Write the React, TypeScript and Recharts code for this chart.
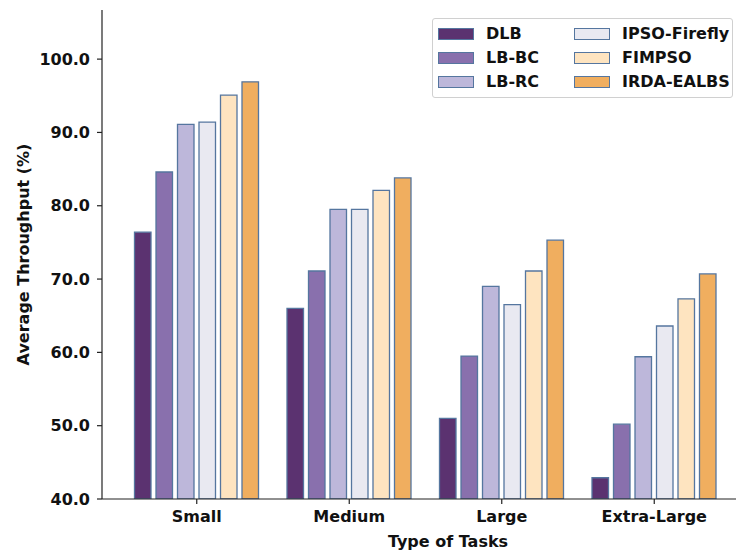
import React from 'react';
import { BarChart, Bar, XAxis, YAxis, Legend, Label } from 'recharts';

const categories = ['Small', 'Medium', 'Large', 'Extra-Large'];
const dlb = [76.4, 66.0, 51.0, 42.9];
const lbBc = [84.6, 71.1, 59.5, 50.2];
const lbRc = [91.1, 79.5, 69.0, 59.4];
const ipsoFirefly = [91.4, 79.5, 66.5, 63.6];
const fimpso = [95.1, 82.1, 71.1, 67.3];
const irdaEalbs = [96.9, 83.8, 75.3, 70.7];
const yTicks = [40, 50, 60, 70, 80, 90, 100];

const series = [
  { key: 'DLB', values: dlb, color: '#5b3270' },
  { key: 'LB-BC', values: lbBc, color: '#8970ad' },
  { key: 'LB-RC', values: lbRc, color: '#bdb7da' },
  { key: 'IPSO-Firefly', values: ipsoFirefly, color: '#e9e9f1' },
  { key: 'FIMPSO', values: fimpso, color: '#fee4c0' },
  { key: 'IRDA-EALBS', values: irdaEalbs, color: '#f0ae5f' },
];

const data = categories.map((name, i) => {
  const row: Record<string, string | number> = { name };
  series.forEach((s) => {
    row[s.key] = s.values[i];
  });
  return row;
});

const FONT = '"DejaVu Sans", sans-serif';
const EDGE = '#55769f';

function LegendBox() {
  return (
    <div
      style={{
        width: 301,
        height: 80,
        boxSizing: 'border-box',
        border: '1px solid #d0d0d0',
        borderRadius: 3,
        background: 'rgba(255,255,255,0.85)',
        padding: '3px 0 0 5px',
        display: 'grid',
        gridTemplateColumns: '136px 160px',
        gridTemplateRows: 'repeat(3, 24px)',
        gridAutoFlow: 'column',
        fontFamily: FONT,
        fontWeight: 'bold',
        fontSize: 16,
        color: '#111',
      }}
    >
      {series.map((s) => (
        <div key={s.key} style={{ display: 'flex', alignItems: 'center', height: 24 }}>
          <span
            style={{
              width: 34,
              height: 10,
              background: s.color,
              border: `1.2px solid ${EDGE}`,
              marginRight: 12,
              flexShrink: 0,
            }}
          />
          <span style={{ whiteSpace: 'nowrap', lineHeight: '24px' }}>{s.key}</span>
        </div>
      ))}
    </div>
  );
}

export default function App() {
  return (
    <div
      style={{
        position: 'absolute',
        left: 0,
        top: 0,
        width: 736,
        height: 551,
        overflow: 'hidden',
        background: '#fff',
      }}
    >
      <BarChart
        width={760}
        height={551}
        data={data}
        margin={{ top: 10, right: 11, bottom: 0, left: 0 }}
        barSize={16.5}
        barGap={5}
      >
        <XAxis
          dataKey='name'
          height={52}
          padding={{ left: 18.5, right: 18.5 }}
          tickSize={5}
          tickMargin={7}
          tick={{ fontFamily: FONT, fontWeight: 'bold', fontSize: 16, fill: '#111' }}
          axisLine={{ stroke: '#222', strokeWidth: 1.2 }}
          tickLine={{ stroke: '#222', strokeWidth: 1.2 }}
        >
          <Label
            content={({ viewBox }: any) => (
              <text
                x={viewBox.x + 346}
                y={547}
                textAnchor='middle'
                fontFamily={FONT}
                fontWeight='bold'
                fontSize={16}
                fill='#111'
              >
                Type of Tasks
              </text>
            )}
          />
        </XAxis>
        <XAxis
          xAxisId='top'
          dataKey='name'
          orientation='top'
          height={0}
          tick={false}
          tickLine={false}
          axisLine={{ stroke: '#222', strokeWidth: 1.2 }}
        />
        <YAxis
          width={102}
          domain={[40, 106.7]}
          ticks={yTicks}
          allowDataOverflow
          tickSize={5}
          tickMargin={7}
          tickFormatter={(v: number) => v.toFixed(1)}
          tick={{ fontFamily: FONT, fontWeight: 'bold', fontSize: 16, fill: '#111' }}
          axisLine={{ stroke: '#222', strokeWidth: 1.2 }}
          tickLine={{ stroke: '#222', strokeWidth: 1.2 }}
        >
          <Label
            content={({ viewBox }: any) => {
              const cy = viewBox.y + viewBox.height / 2;
              return (
                <text
                  x={29}
                  y={cy}
                  transform={`rotate(-90, 29, ${cy})`}
                  textAnchor='middle'
                  fontFamily={FONT}
                  fontWeight='bold'
                  fontSize={16}
                  fill='#111'
                >
                  Average Throughput (%)
                </text>
              );
            }}
          />
        </YAxis>
        <Legend
          layout='horizontal'
          verticalAlign='middle'
          align='center'
          wrapperStyle={{ top: 18, left: 432, width: 301, height: 80 }}
          content={() => <LegendBox />}
        />
        {series.map((s) => (
          <Bar
            key={s.key}
            dataKey={s.key}
            fill={s.color}
            stroke={EDGE}
            strokeWidth={1.3}
            isAnimationActive={false}
          />
        ))}
      </BarChart>
    </div>
  );
}
